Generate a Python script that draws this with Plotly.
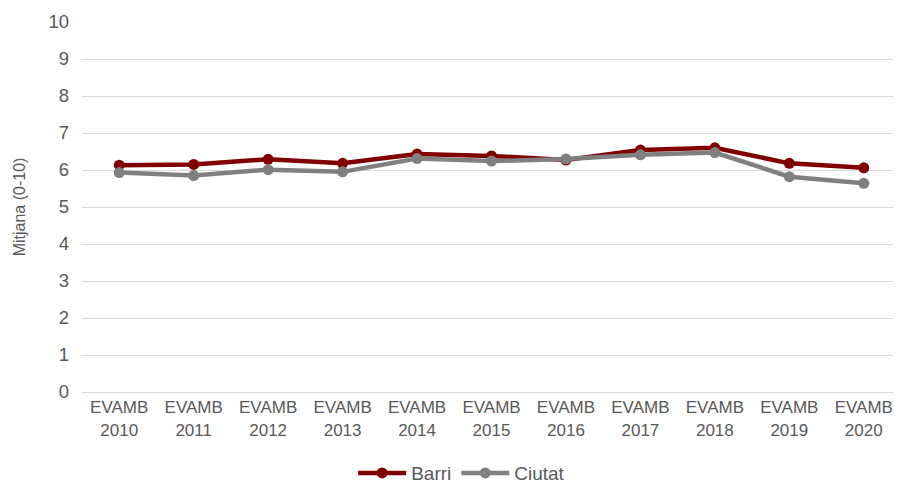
import plotly.graph_objects as go

# Mitjana per any (0-10)
years = ["EVAMB<br>2010", "EVAMB<br>2011", "EVAMB<br>2012", "EVAMB<br>2013",
         "EVAMB<br>2014", "EVAMB<br>2015", "EVAMB<br>2016", "EVAMB<br>2017",
         "EVAMB<br>2018", "EVAMB<br>2019", "EVAMB<br>2020"]
barri = [6.13, 6.15, 6.29, 6.18, 6.43, 6.38, 6.27, 6.54, 6.60, 6.18, 6.06]
ciutat = [5.93, 5.85, 6.01, 5.95, 6.31, 6.24, 6.30, 6.41, 6.47, 5.82, 5.64]

font = "Liberation Sans, Arial, sans-serif"
grey = "#595959"

fig = go.Figure()
fig.add_trace(go.Scatter(x=years, y=barri, name="Barri", mode="lines+markers",
                         line=dict(color="#800000", width=4.5),
                         marker=dict(size=11, color="#800000")))
fig.add_trace(go.Scatter(x=years, y=ciutat, name="Ciutat", mode="lines+markers",
                         line=dict(color="#808080", width=4.5),
                         marker=dict(size=11, color="#808080")))

# the page body has an 8px margin, so the figure is a bit smaller than the window
fig.update_layout(
    width=893, height=475,
    margin=dict(l=74, r=0, t=14, b=91),
    paper_bgcolor="white", plot_bgcolor="white",
    font=dict(family=font, color=grey, size=17),
    showlegend=True,
    legend=dict(orientation="h", xref="container", x=0.508, xanchor="center",
                yref="container", y=0.021, yanchor="middle",
                itemwidth=48, font=dict(size=19, color=grey)),
)
fig.update_xaxes(range=[-0.5, 10.5], showgrid=False, showline=True, linecolor="#d9d9d9",
                 linewidth=1, tickfont=dict(size=17, color=grey), ticks="", automargin=False)
fig.update_yaxes(range=[0, 10], dtick=1, showgrid=True, gridcolor="#d9d9d9", gridwidth=1,
                 zeroline=False, tickfont=dict(size=18.5, color=grey),
                 ticklabelstandoff=12, automargin=False,
                 title=dict(text="Mitjana (0-10)", font=dict(size=16, color=grey), standoff=18))

fig.write_html("out.html")
